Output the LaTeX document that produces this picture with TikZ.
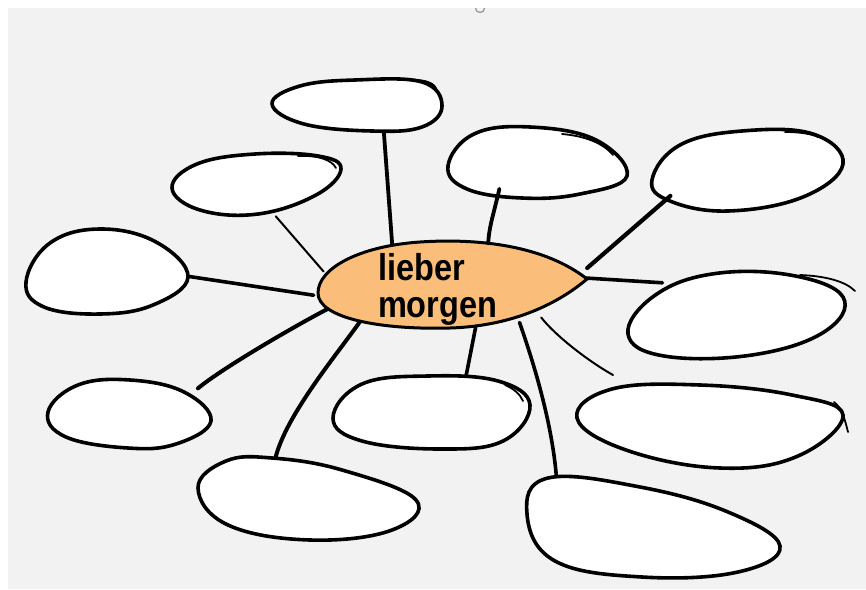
\documentclass[tikz,border=0pt]{standalone}
\usepackage{fontspec}
\usepackage{graphicx}
\setmainfont{Liberation Sans}
\usetikzlibrary{shapes.geometric}
\pgfdeclarelayer{links}
\pgfdeclarelayer{blobs}
\pgfsetlayers{links,blobs,main}
\definecolor{bggray}{RGB}{242,242,242}
\definecolor{hubfill}{RGB}{250,190,122}
\begin{document}
\begin{tikzpicture}[x=1pt,y=-1pt,
  spot/.style args={#1x#2}{ellipse,inner sep=0pt,minimum width=#1pt,minimum height=#2pt},
  blob/.style={draw=black,line width=3.6pt,fill=white,line join=round},
  hub/.style={draw=black,line width=3pt,fill=hubfill,line join=round},
  link/.style={draw=black,line width=3.6pt,line cap=round},
  thinlink/.style={draw=black,line width=2pt,line cap=round},
  extra/.style={draw=black,line width=1.8pt,line cap=round},
  soft/.style={smooth cycle,tension=0.68},
]
\useasboundingbox (0,0) rectangle (866,589);

% anchor nodes (outlines drawn on the blobs layer)
\node[spot=170x52]  (b1)  at (357,105) {};
\node[spot=170x64]  (b2)  at (257,185) {};
\node[spot=164x86]  (b3)  at (106,272) {};
\node[spot=180x72]  (b4)  at (537,162) {};
\node[spot=192x82]  (b5)  at (747,171) {};
\node[spot=218x84]  (b6)  at (736,314) {};
\node[spot=164x68]  (b7)  at (130,414) {};
\node[spot=220x82]  (b8)  at (307,499) {};
\node[spot=198x74]  (b9)  at (431,412) {};
\node[spot=270x84]  (b10) at (712,426) {};
\node[spot=256x102] (b11) at (652,526) {};
\node[spot=270x86]  (c)   at (452,285) {\makebox[0pt]{\smash{\raisebox{-32pt}{\parbox[b]{148pt}{\raggedright\fontsize{32.5}{37}\selectfont\bfseries\scalebox{1}[1.15]{lieber}\\\scalebox{1}[1.15]{morgen}}}}}};
\coordinate (arcend) at (613,375);

\begin{pgfonlayer}{links}
  \fill[white] (0,0) rectangle (866,589);
  \fill[bggray] (8,8) rectangle (866,589);
  \draw[gray!80,line width=1.3pt] (475.5,8) arc[start angle=180,end angle=0,radius=4.5];
  \draw[link,line width=3.8pt] (b1.-43) -- (c.147);
  \draw[thinlink] (b2.-59) -- (c.174);
  \draw[link,shorten >=8pt] (b3.-3) -- (c.185);
  \draw[link] (c.3) -- (b6.157);
  \draw[thinlink] (c.-20) .. controls +(14,18) and +(-25,-14) .. (arcend);
  \draw[link] (c.-29) .. controls +(14,40) and +(-2,-60) .. (b11.160);
  \draw[link] (c.-61) -- (b9.45);
  \draw[link,line width=4pt] (c.200) .. controls +(-20,30) and +(10,-45) .. (b8.129);
  \draw[link,line width=4pt,shorten >=6pt] (c.190) .. controls +(-30,15) and +(30,-25) .. (b7.19);
\end{pgfonlayer}

\begin{pgfonlayer}{blobs}
  \draw[blob] plot[soft] coordinates {(272,104) (300,86) (355,80) (422,82) (442,106) (422,127) (372,131) (304,124)};
  \draw[blob] plot[soft] coordinates {(172,188) (197,164) (255,154) (318,156) (341,169) (316,195) (258,214) (200,210)};
  \draw[blob] plot[soft] coordinates {(26,282) (50,243) (100,229) (156,242) (188,277) (153,305) (100,314) (44,307)};
  \draw[blob] plot[soft] coordinates {(448,166) (474,134) (530,127) (596,140) (627,176) (580,194) (522,198) (467,189)};
  \draw[blob] plot[soft] coordinates {(652,180) (680,145) (742,131) (813,134) (843,164) (803,197) (728,211) (670,201)};
  \draw[blob] plot[soft] coordinates {(628,334) (654,296) (712,274) (790,275) (843,297) (824,332) (752,355) (664,356)};
  \draw[blob] plot[soft] coordinates {(48,412) (78,385) (130,380) (184,392) (211,421) (176,444) (128,448) (66,437)};
  \draw[blob] plot[soft] coordinates {(198,488) (226,461) (272,458) (342,470) (416,500) (392,530) (310,540) (228,525)};
  \draw[blob] plot[soft] coordinates {(333,418) (362,384) (428,376) (498,381) (530,405) (503,441) (440,449) (362,441)};
  \draw[blob] plot[soft] coordinates {(577,418) (612,389) (700,385) (792,395) (843,415) (798,456) (720,468) (626,450)};
  \draw[blob] plot[soft] coordinates {(548,478) (640,487) (728,512) (780,546) (738,572) (642,577) (555,561) (527,514)};
  % overlapping pen strokes
  \draw[extra] (405,80) .. controls (420,79) and (432,81) .. (436,88);
  \draw[extra] (298,156) .. controls (318,155) and (332,160) .. (336,168);
  \draw[extra] (562,134) .. controls (585,136) and (603,143) .. (613,155);
  \draw[extra] (785,132) .. controls (800,132) and (812,134) .. (818,137);
  \draw[extra] (800,275) .. controls (825,276) and (845,281) .. (855,291);
  \draw[extra] (505,385) .. controls (514,389) and (520,394) .. (523,401);
  \draw[extra] (834,402) .. controls (842,408) and (845,420) .. (848,432);
  % central lemon
  \draw[hub] (587,279) .. controls (545,246) and (480,238) .. (420,242)
    .. controls (360,246) and (318,268) .. (318,293)
    .. controls (318,318) and (380,330) .. (450,328)
    .. controls (515,326) and (560,302) .. (587,279) -- cycle;
\end{pgfonlayer}

\draw[link,line width=3.8pt,shorten <=-6pt] (b4.220) .. controls +(-4,18) and +(1,-18) .. (c.49);
\draw[link,line width=4.2pt] (b5.198) -- ([yshift=17pt]c.east);
\end{tikzpicture}
\end{document}
